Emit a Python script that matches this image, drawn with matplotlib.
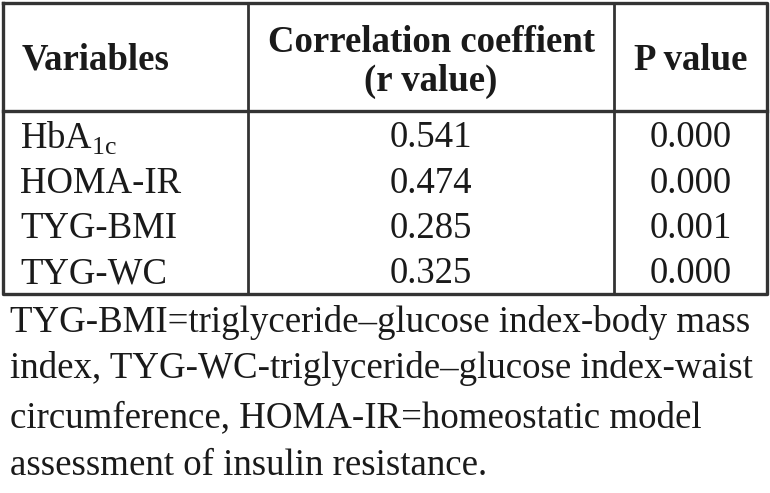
import matplotlib.pyplot as plt

plt.rcParams['font.family'] = ['Liberation Serif', 'DejaVu Serif']
plt.rcParams['mathtext.fontset'] = 'custom'
plt.rcParams['mathtext.rm'] = 'Liberation Serif'

headers = ['Variables', 'Correlation coeffient\n(r value)', 'P value']
variables = ['HbA$_\\mathregular{1c}$', 'HOMA-IR', 'TYG-BMI', 'TYG-WC']
r_values = ['0.541', '0.474', '0.285', '0.325']
p_values = ['0.000', '0.000', '0.001', '0.000']
footnote = ['TYG-BMI=triglyceride\u2013glucose index-body mass',
            'index, TYG-WC-triglyceride\u2013glucose index-waist',
            'circumference, HOMA-IR=homeostatic model',
            'assessment of insulin resistance.']

fig = plt.figure(figsize=(7.7, 4.93), dpi=100)
ax = fig.add_axes([0, 0, 1, 1])
ax.set_xlim(0, 770)
ax.set_ylim(493, 0)
ax.axis('off')

# table grid (pixel coords)
left, c1, c2, right = 3, 248, 614, 767
top, head, bottom = 3, 111, 294
lc = '#333333'
ax.plot([left, right, right, left, left], [top, top, bottom, bottom, top], color=lc, lw=2.4)
ax.plot([left, right], [head, head], color=lc, lw=2.4)
ax.plot([c1, c1], [top, bottom], color=lc, lw=2)
ax.plot([c2, c2], [top, bottom], color=lc, lw=2)

txt = '#1a1a1a'
hs = 26.5
ax.text(22, 60, headers[0], fontsize=hs, fontweight='bold', ha='left', va='center', color=txt)
ax.text((c1 + c2) / 2, 62, headers[1], fontsize=hs, fontweight='bold', ha='center', va='center',
        color=txt, linespacing=1.15)
ax.text((c2 + right) / 2, 60, headers[2], fontsize=hs, fontweight='bold', ha='center', va='center', color=txt)

row_y = [138, 184, 229, 274]
for y, v, r, p in zip(row_y, variables, r_values, p_values):
    ax.text(20, y, v, fontsize=26.5, ha='left', va='center', color=txt)
    ax.text((c1 + c2) / 2, y, r, fontsize=26.5, ha='center', va='center', color=txt)
    ax.text((c2 + right) / 2, y, p, fontsize=26.5, ha='center', va='center', color=txt)

foot_y = [322, 369, 418, 466]
for y, line in zip(foot_y, footnote):
    ax.text(10, y, line, fontsize=26.6, ha='left', va='center', color=txt)

fig.savefig('out.png', dpi=100)
